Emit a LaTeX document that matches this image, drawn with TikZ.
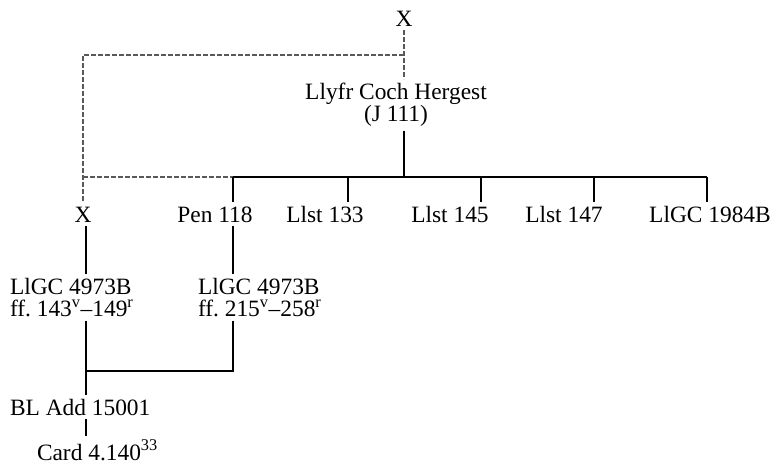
\documentclass[tikz,border=0pt]{standalone}
\usepackage{fontspec}
\setmainfont{Liberation Serif}
\begin{document}
\begin{tikzpicture}[x=1pt,y=-1pt,
  lbl/.style={inner xsep=0pt, inner ysep=4pt, outer sep=0pt, font=\fontsize{23.4}{21}\selectfont\frenchspacing},
  solidline/.style={line width=2.3pt, black},
  dashline/.style={line width=1.4pt, black!65, dash pattern=on 5pt off 2pt}]
\useasboundingbox (0,0) rectangle (772,464);
% nodes
\node[lbl, anchor=base] (xtop) at (404,26) {X};
\node[lbl, anchor=north, align=center, font=\fontsize{23.4}{20}\selectfont] (llyfr) at (396,79) {Llyfr Coch Hergest\\(J 111)};
\node[lbl, anchor=base] (xb) at (83,222) {X};
\node[lbl, anchor=base] (pen) at (215,222) {Pen 118};
\node[lbl, anchor=base] (l133) at (325,222) {Llst 133};
\node[lbl, anchor=base] (l145) at (450,222) {Llst 145};
\node[lbl, anchor=base] (l147) at (564,222) {Llst 147};
\node[lbl, anchor=base] (l1984) at (710,222) {LlGC 1984B};
\node[lbl, anchor=north west, align=left, font=\fontsize{23.4}{22}\selectfont\frenchspacing] (la) at (10,274) {LlGC 4973B\\ff.\ 143\textsuperscript{v}–149\textsuperscript{r}};
\node[lbl, anchor=north west, align=left, font=\fontsize{23.4}{22}\selectfont\frenchspacing] (lb) at (198,274) {LlGC 4973B\\ff.\ 215\textsuperscript{v}–258\textsuperscript{r}};
\node[lbl, anchor=base west] (bl) at (10,415) {BL Add 15001};
\node[lbl, anchor=base west] (card) at (37,460) {Card 4.140\textsuperscript{33}};
% junction coordinates
\coordinate (d1) at (404,55);
\coordinate (d2) at (83,55);
\coordinate (d3) at (83,177);
\coordinate (jtop) at (404,177);
\coordinate (jpen) at (233,177);
\coordinate (j133) at (348,177);
\coordinate (j145) at (481,177);
\coordinate (j147) at (594,177);
\coordinate (j1984) at (707,177);
\coordinate (colA) at (86,371);
\coordinate (colB) at (233,371);
% dashed connectors
\draw[dashline] (xtop.south) -- (xtop.south |- llyfr.north);
\draw[dashline] (d1) -- (d2) -- (d2 |- xb.north);
\draw[dashline] (d3) -- (jpen);
% solid connectors
\draw[solidline] (jtop |- llyfr.south) -- (jtop);
\draw[solidline] (jpen) -- (j1984);
\draw[solidline] (jpen) -- (jpen |- pen.north);
\draw[solidline] (j133) -- (j133 |- l133.north);
\draw[solidline] (j145) -- (j145 |- l145.north);
\draw[solidline] (j147) -- (j147 |- l147.north);
\draw[solidline] (j1984) -- (j1984 |- l1984.north);
\draw[solidline] (colA |- xb.south) -- (colA |- la.north);
\draw[solidline] (jpen |- pen.south) -- (jpen |- lb.north);
\draw[solidline] (colB |- lb.south) -- (colB) -- (colA);
\draw[solidline] (colA |- la.south) -- (colA |- bl.north);
\draw[solidline] (colA |- bl.south) -- (colA |- card.north);
\end{tikzpicture}
\end{document}
